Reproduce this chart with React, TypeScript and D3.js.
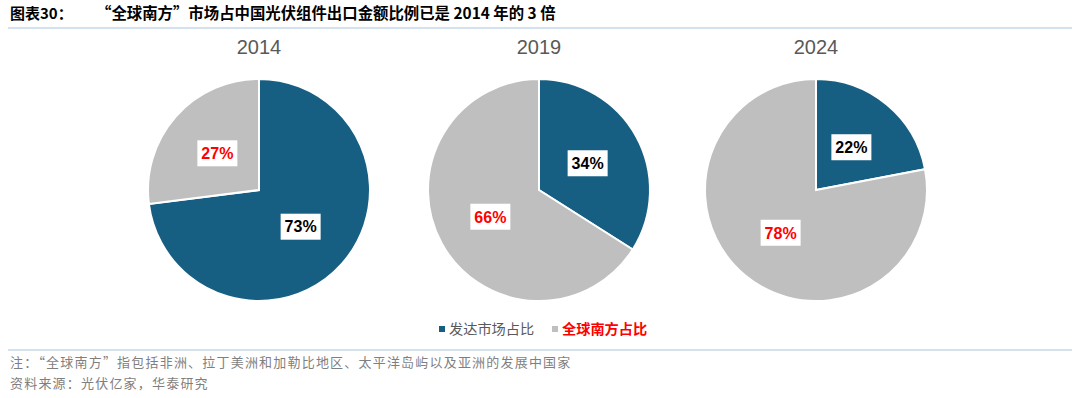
import * as d3 from "d3";

const years = ["2014", "2019", "2024"];
const developed = [73, 34, 22];
const globalSouth = [27, 66, 78];
const seriesNames = ["发达市场占比", "全球南方占比"];
const title = "“全球南方”市场占中国光伏组件出口金额比例已是 2014 年的 3 倍";
const note = "注：“全球南方”指包括非洲、拉丁美洲和加勒比地区、太平洋岛屿以及亚洲的发展中国家";
const source = "资料来源：光伏亿家，华泰研究";

const W = 1080;
const H = 398;
const R = 111;
const cy = 190;
const blue = "#175F82";
const grey = "#BFBFBF";
const cjk = "'Noto Sans CJK SC', 'Liberation Sans', sans-serif";

function Pie({ i, cx }) {
  const vals = [developed[i], globalSouth[i]];
  const arcs = d3.pie<number>().sort(null)(vals);
  const arc = d3.arc<d3.PieArcDatum<number>>().innerRadius(0).outerRadius(R);
  const lab = d3.arc<d3.PieArcDatum<number>>().innerRadius(R).outerRadius(0);
  return (
    <g transform={`translate(${cx},${cy})`}>
      <text y={-136} textAnchor="middle" fontSize={20} fill="#595959" fontFamily="'Liberation Sans', Arial, sans-serif">{years[i]}</text>
      {arcs.map((a, k) => (
        <path key={k} d={arc(a) || ""} fill={k === 0 ? blue : grey} stroke="#fff" strokeWidth={2} />
      ))}
      {arcs.map((a, k) => {
        const [x, y] = lab.centroid(a);
        return (
          <g key={"l" + k} transform={`translate(${x},${y})`}>
            <rect x={-20} y={-13} width={40} height={26} fill="#fff" />
            <text textAnchor="middle" dy="0.36em" fontSize={16} fontWeight="bold"
              fill={k === 0 ? "#000" : "#FF0000"} fontFamily="'Liberation Sans', Arial, sans-serif">{a.data}%</text>
          </g>
        );
      })}
    </g>
  );
}

export default function App() {
  const x = d3.scaleOrdinal<string, number>(years, [259, 539, 816]);
  return (
    <svg width={W} height={H} style={{ position: "absolute", left: 0, top: 0 }}>
      <rect width={W} height={H} fill="#fff" />
      <text x={10} y={19} fontSize={15} fontWeight="bold" fontFamily={cjk} fill="#000">图表30：</text>
      <text x={96} y={19} fontSize={15.4} fontWeight="bold" fontFamily={cjk} fill="#000">{title}</text>
      <line x1={8} x2={1072} y1={28} y2={28} stroke="#A9C4E0" strokeWidth={1} />
      {years.map((y, i) => (
        <Pie key={y} i={i} cx={x(y)} />
      ))}
      <g fontFamily={cjk} fontSize={14.2}>
        <rect x={439} y={326} width={6} height={6} fill={blue} />
        <text x={449} y={334} fill="#595959">{seriesNames[0]}</text>
        <rect x={552} y={326} width={6} height={6} fill={grey} />
        <text x={562} y={334} fill="#FF0000" fontWeight="bold">{seriesNames[1]}</text>
      </g>
      <line x1={8} x2={1072} y1={350} y2={350} stroke="#A9C4E0" strokeWidth={1} />
      <g fontFamily={cjk} fontSize={13} fill="#7F7F7F" letterSpacing={1.2}>
        <text x={10} y={367}>{note}</text>
        <text x={10} y={388}>{source}</text>
      </g>
    </svg>
  );
}
